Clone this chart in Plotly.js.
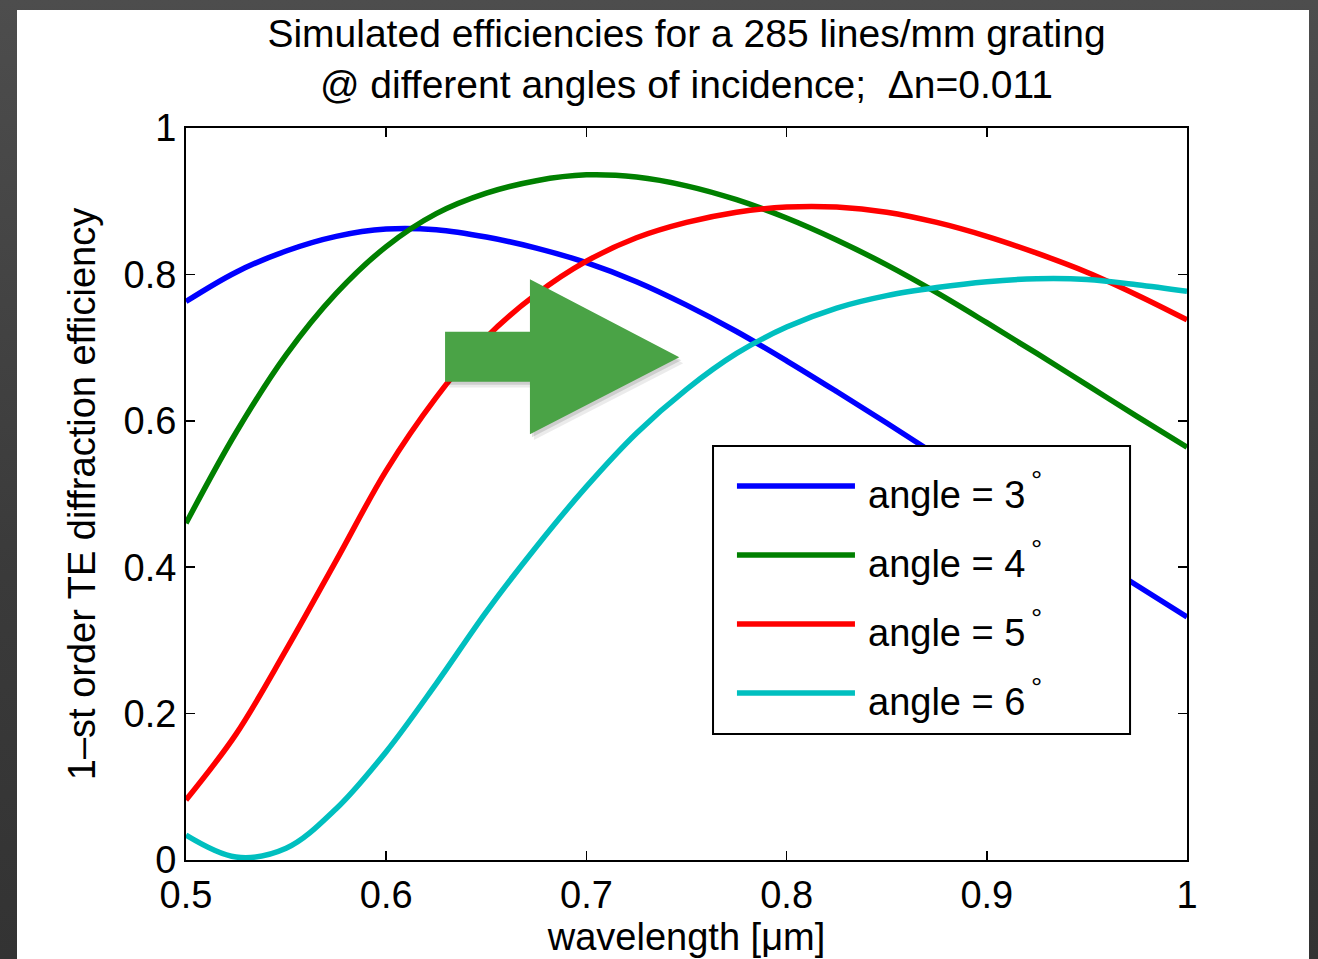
<!DOCTYPE html>
<html>
<head>
<meta charset="utf-8">
<script src="https://cdn.plot.ly/plotly-3.0.1.min.js"></script>
<style>
  html, body { margin: 0; padding: 0; width: 1318px; height: 959px; overflow: hidden;
    background: linear-gradient(#4d4d4d, #3a3a3a 60%, #333333); }
  #chart { position: absolute; left: 17px; top: 10px; width: 1292px; height: 949px; }
</style>
</head>
<body>
<div id="chart"></div>
<script>
// wavelength [µm]
const wavelength = [0.500, 0.525, 0.550, 0.575, 0.600, 0.625, 0.650, 0.675, 0.700, 0.725, 0.750,
                    0.775, 0.800, 0.825, 0.850, 0.875, 0.900, 0.925, 0.950, 0.975, 1.000];
// 1-st order TE diffraction efficiency for each angle of incidence
const angle3 = [0.763, 0.803, 0.832, 0.852, 0.862, 0.861, 0.851, 0.836, 0.816, 0.790, 0.758,
                0.722, 0.682, 0.640, 0.597, 0.553, 0.508, 0.462, 0.418, 0.375, 0.332];
const angle4 = [0.460, 0.584, 0.690, 0.774, 0.838, 0.883, 0.911, 0.928, 0.936, 0.933, 0.921,
                0.902, 0.877, 0.847, 0.813, 0.775, 0.734, 0.692, 0.649, 0.606, 0.564];
const angle5 = [0.082, 0.172, 0.287, 0.409, 0.532, 0.632, 0.714, 0.773, 0.818, 0.850, 0.871,
                0.885, 0.892, 0.892, 0.885, 0.871, 0.852, 0.829, 0.803, 0.772, 0.738];
const angle6 = [0.034, 0.004, 0.016, 0.070, 0.148, 0.241, 0.339, 0.428, 0.510, 0.583, 0.643,
                0.692, 0.728, 0.754, 0.771, 0.782, 0.790, 0.794, 0.793, 0.786, 0.777];

const seriesNames = ['angle = 3', 'angle = 4', 'angle = 5', 'angle = 6'];
const seriesColors = ['#0000ff', '#008000', '#ff0000', '#00bfbf'];
const seriesValues = [angle3, angle4, angle5, angle6];

const xTickVals = [0.5, 0.6, 0.7, 0.8, 0.9, 1.0];
const xTickText = ['0.5', '0.6', '0.7', '0.8', '0.9', '1'];
const yTickVals = [0, 0.2, 0.4, 0.6, 0.8, 1.0];
const yTickText = ['0', '0.2', '0.4', '0.6', '0.8', '1'];

const FONT = 'Liberation Sans, Arial, Helvetica, sans-serif';

const traces = seriesValues.map((vals, i) => ({
  x: wavelength, y: vals, type: 'scatter', mode: 'lines',
  name: seriesNames[i] + '°',
  line: { color: seriesColors[i], width: 5.5, shape: 'spline', smoothing: 1 },
  showlegend: false, hoverinfo: 'skip'
}));

// Legend box (drawn in plot-area paper coordinates)
const legBox = { x0: 0.5265, x1: 0.9431, y0: 0.1721, y1: 0.5656 };
const legRowsY = [0.5109, 0.4167, 0.3224, 0.2281];
const shapes = [];
const annotations = [];

// green arrow with soft shadow
const arrowPath = 'M 0.6294,0.7217 L 0.6718,0.7217 L 0.6718,0.7933 L 0.7464,0.6867 L 0.6718,0.5816 L 0.6718,0.6534 L 0.6294,0.6534 Z';
const shadowPath1 = 'M 0.6304,0.7177 L 0.6728,0.7177 L 0.6728,0.7893 L 0.7474,0.6827 L 0.6728,0.5776 L 0.6728,0.6494 L 0.6304,0.6494 Z';
const shadowPath2 = 'M 0.6314,0.7137 L 0.6738,0.7137 L 0.6738,0.7853 L 0.7484,0.6787 L 0.6738,0.5736 L 0.6738,0.6454 L 0.6314,0.6454 Z';
shapes.push({ type: 'path', xref: 'x', yref: 'y', path: shadowPath2, fillcolor: 'rgba(0,0,0,0.08)', line: { width: 0 }, layer: 'above' });
shapes.push({ type: 'path', xref: 'x', yref: 'y', path: shadowPath1, fillcolor: 'rgba(0,0,0,0.12)', line: { width: 0 }, layer: 'above' });
shapes.push({ type: 'path', xref: 'x', yref: 'y', path: arrowPath, fillcolor: '#4aa346', line: { width: 0 }, layer: 'above' });

shapes.push({ type: 'rect', xref: 'paper', yref: 'paper', x0: legBox.x0, x1: legBox.x1, y0: legBox.y0, y1: legBox.y1,
  fillcolor: '#ffffff', line: { color: '#000000', width: 2 }, layer: 'above' });
legRowsY.forEach((y, i) => {
  shapes.push({ type: 'line', xref: 'paper', yref: 'paper', x0: 0.5504, x1: 0.6683, y0: y, y1: y,
    line: { color: seriesColors[i], width: 5.5 }, layer: 'above' });
  annotations.push({ xref: 'paper', yref: 'paper', x: 0.6790, y: y - 0.012, xanchor: 'left', yanchor: 'middle',
    text: seriesNames[i], showarrow: false, font: { family: FONT, size: 38, color: '#000' } });
  annotations.push({ xref: 'paper', yref: 'paper', x: 0.8492, y: y + 0.008, xanchor: 'center', yanchor: 'middle',
    text: '°', showarrow: false, font: { family: FONT, size: 28, color: '#000' } });
});

const layout = {
  width: 1292, height: 949,
  paper_bgcolor: '#ffffff', plot_bgcolor: '#ffffff',
  margin: { l: 169, r: 122, t: 118, b: 99 },
  font: { family: FONT, size: 38, color: '#000' },
  title: {
    text: 'Simulated efficiencies for a 285 lines/mm grating<br>@ different angles of incidence;  Δn=0.011',
    font: { family: FONT, size: 39, color: '#000' },
    x: 0.5, xref: 'paper', xanchor: 'center',
    y: 0.961, yref: 'container', yanchor: 'top'
  },
  xaxis: {
    range: [0.5, 1.0], tickvals: xTickVals, ticktext: xTickText,
    ticks: 'inside', ticklen: 9, tickwidth: 1.5, tickcolor: '#000',
    showline: true, linecolor: '#000', linewidth: 2, mirror: 'ticks',
    showgrid: false, zeroline: false,
    tickfont: { family: FONT, size: 38 },
    title: { text: 'wavelength [μm]', font: { family: FONT, size: 38 }, standoff: 4 }
  },
  yaxis: {
    range: [0, 1.0], tickvals: yTickVals, ticktext: yTickText,
    ticks: 'inside', ticklen: 9, tickwidth: 1.5, tickcolor: '#000',
    showline: true, linecolor: '#000', linewidth: 2, mirror: 'ticks',
    showgrid: false, zeroline: false,
    tickfont: { family: FONT, size: 38 },
    title: { text: '1–st order TE diffraction efficiency', font: { family: FONT, size: 38 }, standoff: 16 }
  },
  shapes: shapes,
  annotations: annotations,
  showlegend: false
};

Plotly.newPlot('chart', traces, layout, { displayModeBar: false, staticPlot: true });
</script>
</body>
</html>
